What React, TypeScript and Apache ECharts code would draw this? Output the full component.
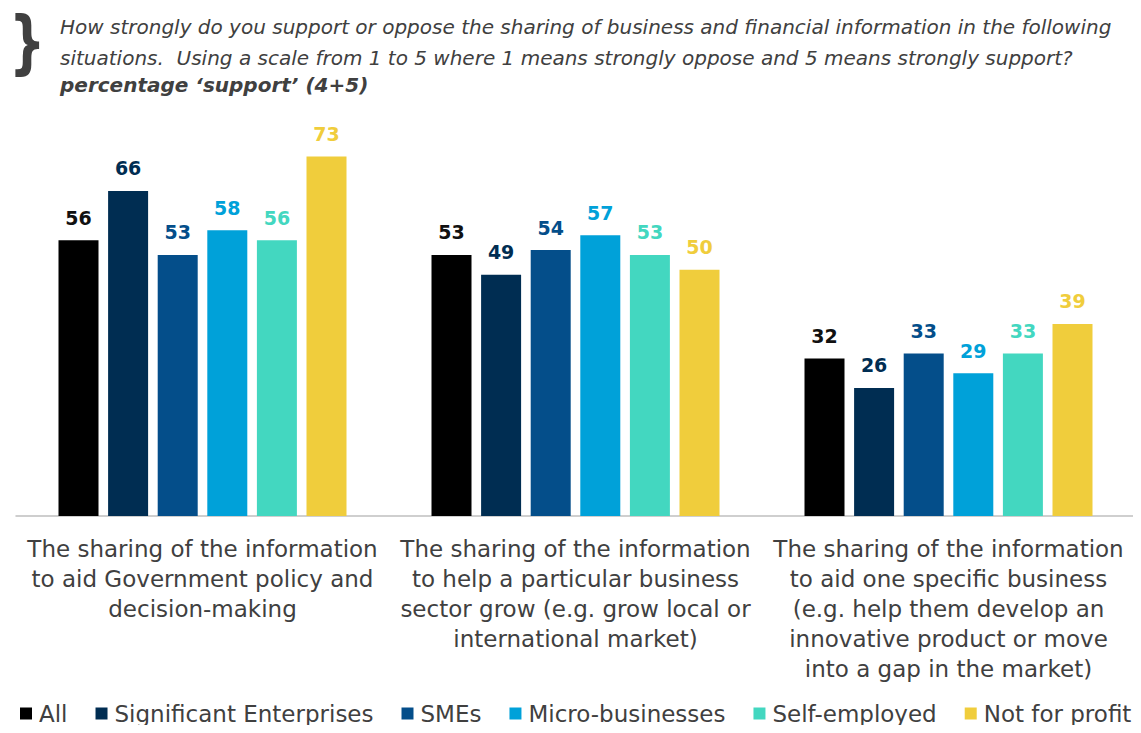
import React, { useEffect, useRef } from "react";
import * as echarts from "echarts";

const categories = [
  "The sharing of the information\nto aid Government policy and\ndecision-making",
  "The sharing of the information\nto help a particular business\nsector grow (e.g. grow local or\ninternational market)",
  "The sharing of the information\nto aid one specific business\n(e.g. help them develop an\ninnovative product or move\ninto a gap in the market)",
];

const seriesNames = [
  "All",
  "Significant Enterprises",
  "SMEs",
  "Micro-businesses",
  "Self-employed",
  "Not for profit",
];

const allValues = [56, 53, 32];
const significantValues = [66, 49, 26];
const smeValues = [53, 54, 33];
const microValues = [58, 57, 29];
const selfEmployedValues = [56, 53, 33];
const notForProfitValues = [73, 50, 39];

const seriesValues = [
  allValues,
  significantValues,
  smeValues,
  microValues,
  selfEmployedValues,
  notForProfitValues,
];

const colors = ["#000000", "#002D52", "#044E8A", "#00A1D9", "#43D7C0", "#F0CD3C"];

const titleLine1 =
  "How strongly do you support or oppose the sharing of business and financial information in the following";
const titleLine2 =
  "situations.  Using a scale from 1 to 5 where 1 means strongly oppose and 5 means strongly support?";
const titleLine3 = "percentage \u2018support\u2019 (4+5)";

const FONT = "'DejaVu Sans', sans-serif";

export default function App() {
  const ref = useRef<HTMLDivElement>(null);
  useEffect(() => {
    if (!ref.current) return;
    const chart = echarts.init(ref.current, null, { renderer: "svg" });
    chart.setOption({
      animation: false,
      backgroundColor: "#ffffff",
      color: colors,
      grid: { left: 16, right: 6, top: 122, bottom: 217, containLabel: false },
      legend: {
        bottom: 8,
        left: 20,
        width: 1200,
        padding: 0,
        itemWidth: 12,
        itemHeight: 12,
        itemGap: 28,
        icon: "rect",
        textStyle: { fontFamily: FONT, fontSize: 23, color: "#404040", padding: [0, 0, 0, 2] },
        data: seriesNames,
      },
      xAxis: {
        type: "category",
        data: categories,
        axisLine: { lineStyle: { color: "#BFBFBF", width: 1.5 } },
        axisTick: { show: false },
        axisLabel: {
          interval: 0,
          margin: 18,
          fontFamily: FONT,
          fontSize: 23,
          lineHeight: 30,
          color: "#404040",
        },
      },
      yAxis: {
        type: "value",
        min: 0,
        max: 80,
        show: false,
        splitLine: { show: false },
      },
      graphic: [
        {
          type: "text",
          x: 9,
          y: 6,
          scaleX: 0.95,
          scaleY: 1.3,
          style: {
            text: "}",
            font: "bold 54px 'DejaVu Sans', sans-serif",
            fill: "#404040",
          },
        },
        {
          type: "text",
          left: 60,
          top: 11,
          style: {
            text: titleLine1 + "\n" + titleLine2,
            font: "italic 20px 'DejaVu Sans', sans-serif",
            lineHeight: 31,
            fill: "#404040",
          },
        },
        {
          type: "text",
          left: 60,
          top: 75,
          style: {
            text: titleLine3,
            font: "italic bold 20px 'DejaVu Sans', sans-serif",
            fill: "#404040",
          },
        },
      ],
      series: seriesNames.map((name, i) => ({
        name,
        type: "bar",
        data: seriesValues[i],
        barWidth: 40,
        barGap: "24%",
        itemStyle: { color: colors[i] },
        label: {
          show: true,
          position: "top",
          distance: 13,
          fontFamily: FONT,
          fontWeight: "bold",
          fontSize: 19,
          color: colors[i] === "#000000" ? "#111111" : colors[i],
        },
      })),
    });
    return () => chart.dispose();
  }, []);
  return <div ref={ref} style={{ width: 1141, height: 733, margin: -8 }} />;
}
